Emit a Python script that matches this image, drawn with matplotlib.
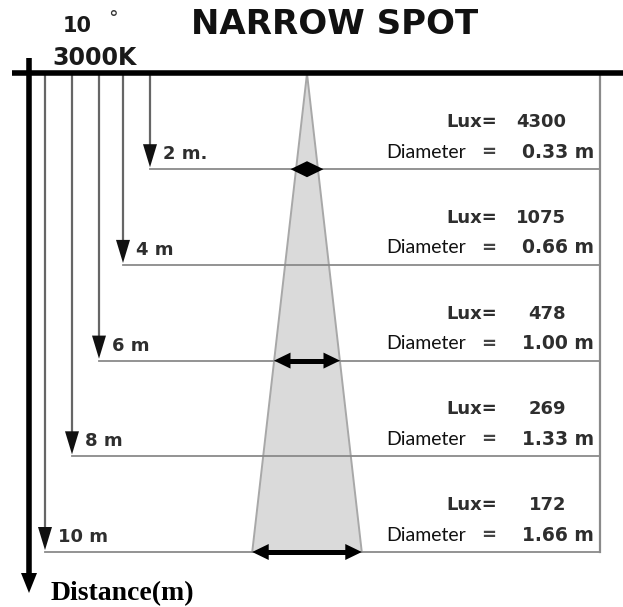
import matplotlib.pyplot as plt
from matplotlib.patches import Polygon

# data
distances = [2, 4, 6, 8, 10]
dist_labels = ['2 m.', '4 m', '6 m', '8 m', '10 m']
lux = [4300, 1075, 478, 269, 172]
diameters = [0.33, 0.66, 1.00, 1.33, 1.66]
arrow_rows = [2, 6, 10]

# layout (x in pixels, y in metres)
W, H = 623, 607
Y0 = 73.5          # pixel row of distance 0
PX = 47.85         # pixels per metre of distance
guide_x = [150, 123, 99, 72, 45]
CX = 307           # beam axis
CSCALE = 66        # pixels per metre of diameter
RIGHT = 600


def m(ypix):
    return (ypix - Y0) / PX


fig = plt.figure(figsize=(W / 100, H / 100), dpi=100)
ax = fig.add_axes([0, 0, 1, 1])
ax.set_xlim(0, W)
ax.set_ylim(m(H), m(0))
ax.axis('off')

gray_line = '#8a8a8a'
txt = '#2e2e2e'

# beam cone
half10 = diameters[-1] / 2 * CSCALE
cone = Polygon([(CX, 0), (CX - half10, distances[-1]), (CX + half10, distances[-1])],
               closed=True, facecolor='#dadada', edgecolor='#a8a8a8', lw=1.4, zorder=1)
ax.add_patch(cone)

# right border
ax.plot([RIGHT, RIGHT], [0, distances[-1]], color=gray_line, lw=1.6, zorder=2)

# guide arrows and rows
for d, gx, lab, lx, dia in zip(distances, guide_x, dist_labels, lux, diameters):
    hl = 25 / PX
    ax.plot([gx, gx], [0.05, d - hl * 0.6], color='#666666', lw=1.6, zorder=2)
    ax.add_patch(Polygon([(gx - 7, d - hl), (gx + 7, d - hl), (gx, d - 0.04)],
                         closed=True, facecolor='#111111', edgecolor='none', zorder=3))
    ax.plot([gx, RIGHT], [d, d], color=gray_line, lw=1.3, zorder=2)
    ax.text(gx + 13, d - 15 / PX, lab, ha='left', va='center', fontsize=13,
            fontweight='bold', color=txt, family='DejaVu Sans')
    ax.text(497, d - 47 / PX, 'Lux=', ha='right', va='center', fontsize=13,
            fontweight='bold', color=txt, family='DejaVu Sans')
    ax.text(566, d - 47 / PX, str(lx), ha='right', va='center', fontsize=13,
            fontweight='bold', color=txt, family='DejaVu Sans')
    ax.text(386, d - 17 / PX, 'Diameter', ha='left', va='center', fontsize=14,
            color='#111111', family='Lato')
    ax.text(489, d - 17 / PX, '=', ha='center', va='center', fontsize=13,
            fontweight='bold', color='#444444', family='DejaVu Sans')
    ax.text(594, d - 17 / PX, f'{dia:.2f} m', ha='right', va='center', fontsize=13.5,
            fontweight='bold', color=txt, family='DejaVu Sans')

# beam width arrows
for d in arrow_rows:
    dia = diameters[distances.index(d)]
    head = 16.5
    half = max(dia / 2 * CSCALE, head)
    hw = 8 / PX
    ax.plot([CX - half + head * 0.8, CX + half - head * 0.8], [d, d], color='black',
            lw=3.6, solid_capstyle='butt', zorder=4)
    ax.add_patch(Polygon([(CX - half, d), (CX - half + head, d - hw), (CX - half + head, d + hw)],
                         closed=True, facecolor='black', edgecolor='none', zorder=5))
    ax.add_patch(Polygon([(CX + half, d), (CX + half - head, d - hw), (CX + half - head, d + hw)],
                         closed=True, facecolor='black', edgecolor='none', zorder=5))

# top bar and distance axis
ax.plot([12, W], [m(73), m(73)], color='black', lw=4, solid_capstyle='butt', zorder=6)
ax.plot([29, 29], [m(58), m(578)], color='black', lw=4, solid_capstyle='butt', zorder=6)
ax.add_patch(Polygon([(21, m(573)), (37, m(573)), (29, m(593))], closed=True,
                     facecolor='black', edgecolor='none', zorder=6))

# headings
ax.text(63, m(26), '10', ha='left', va='center', fontsize=15, fontweight='bold',
        color='#1a1a1a', family='DejaVu Sans')
ax.text(113, m(19), '°', ha='center', va='center', fontsize=14,
        color='#333333', family='DejaVu Sans')
ax.text(52, m(58), '3000K', ha='left', va='center', fontsize=17, fontweight='bold',
        color='#1a1a1a', family='DejaVu Sans')
ax.text(191, m(25), 'NARROW SPOT', ha='left', va='center', fontsize=24.5,
        fontweight='bold', color='#111111', family='DejaVu Sans')
ax.text(51, m(594), 'Distance(m)', ha='left', va='center', fontsize=20,
        fontweight='bold', color='black', family='Liberation Serif')

fig.savefig('out.png', dpi=100, facecolor='white')
